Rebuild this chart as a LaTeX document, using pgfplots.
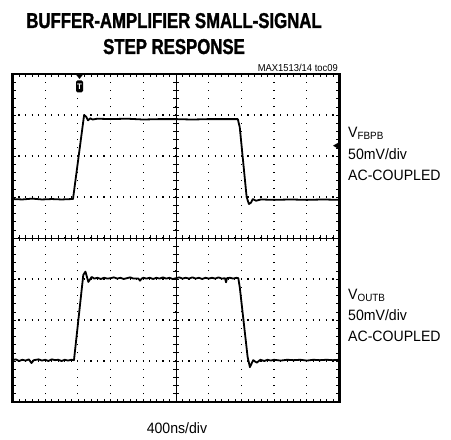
\documentclass[border=0pt]{standalone}
\usepackage{fontspec}
\setmainfont{Liberation Sans}
\newfontfamily\titlefont[FakeStretch=0.78,FakeBold=1.3]{Liberation Sans Bold}
\newfontfamily\lblfont[FakeStretch=0.94]{Liberation Sans}
\usepackage{pgfplots}
\pgfplotsset{compat=1.18}
\newcommand\lbl{\lblfont\fontsize{15}{17}\selectfont}
\newcommand\sub[1]{\raisebox{-2pt}{\fontsize{10.5}{12}\selectfont #1}}
\begin{document}
\begin{tikzpicture}
\useasboundingbox (0pt,0pt) rectangle (451pt,440pt);
\begin{axis}[
    at={(12.5pt,38pt)}, anchor=south west,
    scale only axis, width=327pt, height=328pt,
    xmin=0, xmax=10, ymin=-4, ymax=4,
    xtick={0,...,10}, ytick={-4,...,4},
    minor x tick num=4, minor y tick num=4,
    xticklabels={}, yticklabels={},
    tick align=inside,
    major tick length=3pt, minor tick length=3pt,
    every tick/.style={black, line width=0.6pt},
    axis line style={line width=2.6pt},
    grid=major,
    x grid style={black, line width=1.2pt, dash pattern=on 1.2pt off 7pt, dash phase=0.6pt},
    y grid style={black, line width=1.2pt, dash pattern=on 1.2pt off 5.34pt, dash phase=0.6pt},
]
% V_FBPB
\addplot[black, line width=1.8pt, line join=round] coordinates {
  (0,0.95) (0.3,0.94) (0.6,0.96) (0.9,0.94) (1.2,0.95) (1.5,0.94) (1.8,0.95)
  (1.85,0.95) (2.19,3.0) (2.25,2.96) (2.31,2.87) (2.38,2.92) (2.45,2.89)
  (2.6,2.91) (3.0,2.90) (3.5,2.91) (4.0,2.89) (4.5,2.90) (5.0,2.90)
  (5.5,2.89) (6.0,2.90) (6.5,2.90) (6.89,2.90) (6.95,2.70) (7.16,1.0)
  (7.23,0.83) (7.29,0.86) (7.35,0.95) (7.45,0.91) (7.6,0.94) (8,0.93)
  (8.5,0.94) (9,0.93) (9.5,0.94) (10,0.93)
};
% V_OUTB
\addplot[black, line width=1.8pt, line join=round] coordinates {
  (0,-2.98) (0.1,-2.96) (0.2,-3.0) (0.3,-2.97) (0.4,-2.99) (0.5,-2.96)
  (0.58,-3.05) (0.65,-2.98) (0.8,-2.96) (0.9,-2.99) (1.0,-2.97) (1.1,-3.0)
  (1.2,-2.96) (1.3,-2.98) (1.4,-2.97) (1.5,-3.0) (1.6,-2.97) (1.7,-2.99)
  (1.8,-2.97) (1.88,-2.98) (2.165,-0.90) (2.23,-0.82) (2.32,-1.07)
  (2.42,-0.95) (2.5,-0.99) (2.6,-0.97) (2.7,-1.0) (2.8,-0.97) (2.9,-0.99)
  (3.0,-0.98) (3.1,-0.96) (3.2,-0.99) (3.3,-0.97) (3.4,-1.0) (3.5,-0.98)
  (3.6,-0.96) (3.7,-0.99) (3.85,-0.99) (3.9,-1.04) (3.95,-0.99) (4.0,-0.97)
  (4.1,-0.99) (4.2,-0.97) (4.3,-1.0) (4.4,-0.97) (4.5,-0.99) (4.6,-0.96)
  (4.7,-0.99) (4.8,-0.97) (4.9,-1.0) (5.0,-0.98) (5.1,-0.96) (5.2,-0.99)
  (5.3,-0.97) (5.4,-0.99) (5.5,-0.96) (5.6,-0.99) (5.7,-0.97) (5.8,-1.0)
  (5.9,-0.97) (6.0,-0.99) (6.1,-0.97) (6.2,-0.99) (6.3,-0.96) (6.4,-0.99)
  (6.5,-0.98) (6.53,-1.08) (6.56,-0.98) (6.65,-0.97) (6.75,-0.99)
  (6.85,-0.97) (6.905,-0.98) (6.95,-1.20) (7.19,-2.90) (7.26,-3.15)
  (7.36,-2.98) (7.47,-3.04) (7.58,-2.97) (7.7,-3.0) (7.8,-2.97) (7.9,-2.99)
  (8.0,-2.97) (8.2,-2.99) (8.4,-2.97) (8.6,-2.98) (8.8,-2.97) (9.0,-2.99)
  (9.2,-2.97) (9.4,-2.98) (9.6,-2.97) (9.8,-2.98) (10,-2.97)
};
\end{axis}
% centre cross lines of the graticule
\begin{scope}[shift={(12.5pt,202pt)}, x=32.7pt, y=41pt, line width=0.6pt]
  \draw (0,0) -- (10,0);
  \draw (5,-4) -- (5,4);
  \foreach \i in {0.2,0.4,...,9.9} \draw (\i,0) ++(0,-3pt) -- ++(0,6pt);
  \foreach \j in {-3.8,-3.6,...,3.9} \draw (5,\j) ++(-3pt,0) -- ++(6pt,0);
\end{scope}
% trigger and reference markers
\fill (75.5pt,366pt) -- (83.5pt,366pt) -- (79.5pt,361pt) -- cycle;
\node[fill=black, text=white, rounded corners=1.5pt, inner sep=0pt,
      minimum width=7pt, minimum height=12pt,
      font=\bfseries\fontsize{8}{8}\selectfont] at (79.5pt,353.5pt) {T};
\fill (333pt,294.3pt) -- (339.5pt,298pt) -- (339.5pt,290.6pt) -- cycle;
% texts
\node[anchor=base, inner sep=0pt, font=\titlefont\fontsize{21.5}{24}\selectfont]
  at (174pt,412pt) {BUFFER-AMPLIFIER SMALL-SIGNAL};
\node[anchor=base, inner sep=0pt, font=\titlefont\fontsize{21.5}{24}\selectfont]
  at (174pt,386pt) {STEP RESPONSE};
\node[anchor=base east, inner sep=0pt, font=\lblfont\fontsize{10}{12}\selectfont]
  at (338pt,368.5pt) {MAX1513/14 toc09};
\node[anchor=base west, inner sep=0pt, font=\lbl] at (348pt,302pt) {V\sub{FBPB}};
\node[anchor=base west, inner sep=0pt, font=\lbl] at (348pt,280pt) {50mV/div};
\node[anchor=base west, inner sep=0pt, font=\lbl] at (348pt,259pt) {AC-COUPLED};
\node[anchor=base west, inner sep=0pt, font=\lbl] at (348pt,140pt) {V\sub{OUTB}};
\node[anchor=base west, inner sep=0pt, font=\lbl] at (348pt,119pt) {50mV/div};
\node[anchor=base west, inner sep=0pt, font=\lbl] at (348pt,98pt) {AC-COUPLED};
\node[anchor=base, inner sep=0pt, font=\lbl] at (177pt,6pt) {400ns/div};
\end{tikzpicture}
\end{document}
